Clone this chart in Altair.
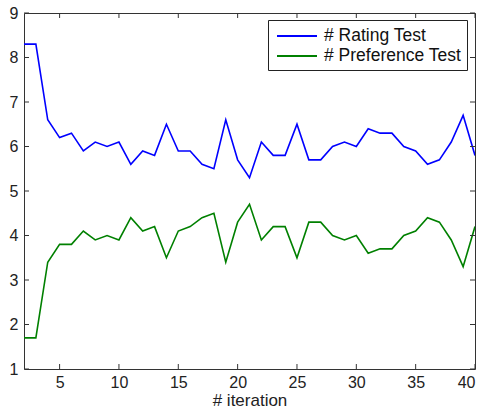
import altair as alt
import pandas as pd

iterations = list(range(2, 41))
rating = [8.3, 8.3, 6.6, 6.2, 6.3, 5.9, 6.1, 6.0, 6.1, 5.6, 5.9, 5.8, 6.5, 5.9, 5.9, 5.6, 5.5, 6.6, 5.7, 5.3,
          6.1, 5.8, 5.8, 6.5, 5.7, 5.7, 6.0, 6.1, 6.0, 6.4, 6.3, 6.3, 6.0, 5.9, 5.6, 5.7, 6.1, 6.7, 5.8]
preference = [1.7, 1.7, 3.4, 3.8, 3.8, 4.1, 3.9, 4.0, 3.9, 4.4, 4.1, 4.2, 3.5, 4.1, 4.2, 4.4, 4.5, 3.4, 4.3, 4.7,
              3.9, 4.2, 4.2, 3.5, 4.3, 4.3, 4.0, 3.9, 4.0, 3.6, 3.7, 3.7, 4.0, 4.1, 4.4, 4.3, 3.9, 3.3, 4.2]
series_names = ["# Rating Test", "# Preference Test"]
series_colors = ["#0000ff", "#008000"]
x_ticks = [5, 10, 15, 20, 25, 30, 35, 40]
y_ticks = [1, 2, 3, 4, 5, 6, 7, 8, 9]

df = pd.DataFrame({
    "iter": iterations * 2,
    "value": rating + preference,
    "series": [series_names[0]] * len(iterations) + [series_names[1]] * len(iterations),
})
xt = pd.DataFrame({"iter": x_ticks})
yt = pd.DataFrame({"value": y_ticks})

W, H = 451, 356
FONT = "Liberation Sans"
TICK_COLOR = "#333333"

xscale = alt.Scale(domain=[2, 40], nice=False, zero=False)
yscale = alt.Scale(domain=[1, 9], nice=False, zero=False)

xaxis = alt.Axis(values=x_ticks, ticks=False, domain=False, grid=False,
                 labelFontSize=16, labelFont=FONT, labelColor="#222222",
                 labelPadding=5, title="# iteration", titleFontSize=17,
                 titleFont=FONT, titleFontWeight="normal", titleColor="#222222",
                 titlePadding=2)
yaxis = alt.Axis(values=y_ticks, ticks=False, domain=False, grid=False,
                 labelFontSize=16, labelFont=FONT, labelColor="#222222",
                 labelPadding=6, title=None)

lines = alt.Chart(df).mark_line(strokeWidth=1.6, clip=True).encode(
    x=alt.X("iter:Q", scale=xscale, axis=xaxis),
    y=alt.Y("value:Q", scale=yscale, axis=yaxis),
    color=alt.Color("series:N",
                    scale=alt.Scale(domain=series_names, range=series_colors),
                    sort=series_names,
                    legend=alt.Legend(orient="none", legendX=244, legendY=7, title=None,
                                      symbolType="M-0.7,0H3.3", symbolSize=400, symbolStrokeWidth=2,
                                      labelFontSize=17.5, labelFont=FONT, labelColor="#111111",
                                      strokeColor="#222222", fillColor="white", padding=5,
                                      rowPadding=0, labelOffset=29)),
    order=alt.Order("iter:Q"),
)

bx = alt.Chart(xt).mark_rule(color=TICK_COLOR).encode(
    x=alt.X("iter:Q", scale=xscale, axis=xaxis), y=alt.value(H), y2=alt.value(H - 5))
tx = alt.Chart(xt).mark_rule(color=TICK_COLOR).encode(
    x=alt.X("iter:Q", scale=xscale, axis=xaxis), y=alt.value(0), y2=alt.value(5))
ly = alt.Chart(yt).mark_rule(color=TICK_COLOR).encode(
    y=alt.Y("value:Q", scale=yscale, axis=yaxis), x=alt.value(0), x2=alt.value(5))
ry = alt.Chart(yt).mark_rule(color=TICK_COLOR).encode(
    y=alt.Y("value:Q", scale=yscale, axis=yaxis), x=alt.value(W), x2=alt.value(W - 5))

chart = alt.layer(lines, bx, tx, ly, ry).properties(
    width=W, height=H,
    padding={"left": 24, "top": 13, "right": 10, "bottom": 41},
    autosize=alt.AutoSizeParams(type="none"),
    background="white",
).configure_view(stroke="#333333", strokeWidth=1)

chart.save("out.html", embed_options={"renderer": "svg", "actions": False})
